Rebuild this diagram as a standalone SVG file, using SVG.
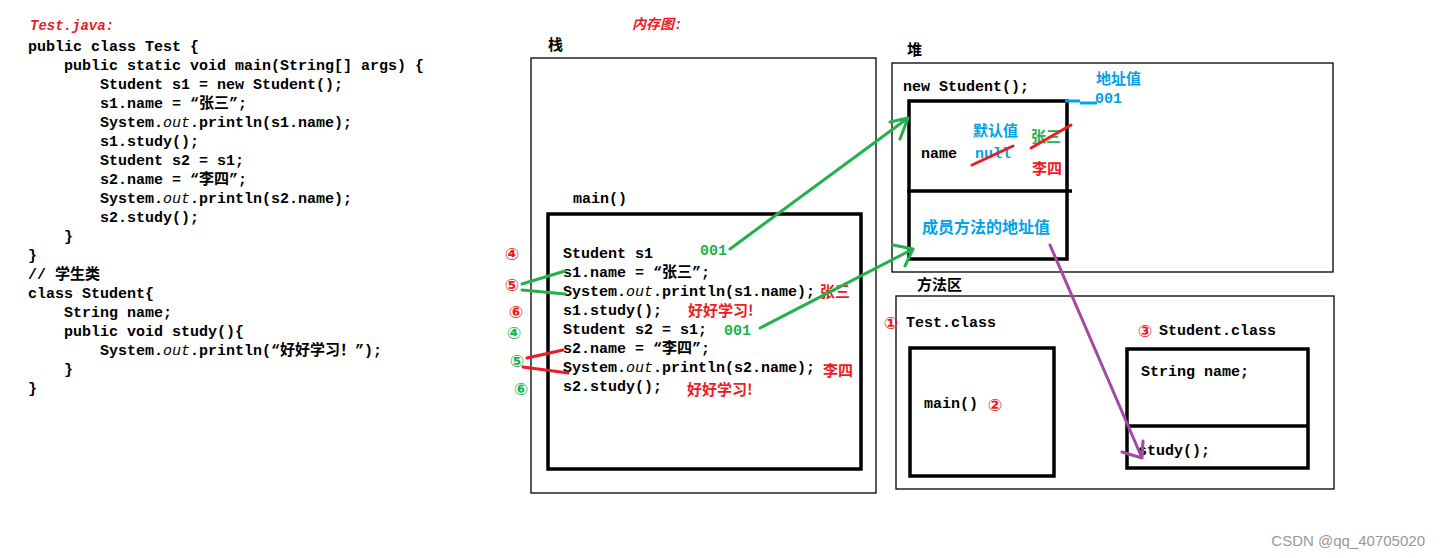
<svg xmlns="http://www.w3.org/2000/svg" width="1440" height="558" viewBox="0 0 1440 558">
<style>
.code{font-family:"Liberation Mono","Noto Sans CJK SC",monospace;font-size:15px;font-weight:bold;fill:#000}
.it{font-style:italic;font-weight:normal}
.cjk{font-family:"Noto Sans CJK SC",sans-serif;font-weight:bold}
.lbl{font-family:"Noto Sans CJK SC",sans-serif;font-size:15px;font-weight:bold;fill:#000}
.red{fill:#ED1C24}
.grn{fill:#22B14C}
.blu{fill:#00A2E8}
.circ{font-family:"DejaVu Sans",sans-serif;font-size:17px;font-weight:bold;text-anchor:middle}
.thin{fill:none;stroke:#000;stroke-width:1.3}
.thick{fill:none;stroke:#000;stroke-width:3.5}
.gl{stroke:#22B14C;stroke-width:3;fill:none;stroke-linecap:round}
.rl{stroke:#ED1C24;stroke-width:3;fill:none;stroke-linecap:round}
.pl{stroke:#A349A4;stroke-width:3;fill:none;stroke-linecap:round}
.bl{stroke:#00A2E8;stroke-width:3;fill:none}
.title{font-family:"Liberation Mono","Noto Sans CJK SC",monospace;font-size:14px;font-weight:bold;font-style:italic;fill:#ED1C24}
</style>
<rect width="1440" height="558" fill="#fff"/>

<g id="source-code">
<text class="title" x="30" y="30">Test.java:</text>
<text class="code" x="28" y="51">public class Test {</text>
<text class="code" x="64" y="70">public static void main(String[] args) {</text>
<text class="code" x="100" y="89">Student s1 = new Student();</text>
<text class="code" x="100" y="108">s1.name = “<tspan class="cjk">张三</tspan>”;</text>
<text class="code" x="100" y="127">System.<tspan class="it">out</tspan>.println(s1.name);</text>
<text class="code" x="100" y="146">s1.study();</text>
<text class="code" x="100" y="165">Student s2 = s1;</text>
<text class="code" x="100" y="184">s2.name = “<tspan class="cjk">李四</tspan>”;</text>
<text class="code" x="100" y="203">System.<tspan class="it">out</tspan>.println(s2.name);</text>
<text class="code" x="100" y="222">s2.study();</text>
<text class="code" x="64" y="241">}</text>
<text class="code" x="28" y="260">}</text>
<text class="code" x="28" y="279">// <tspan class="cjk">学生类</tspan></text>
<text class="code" x="28" y="298">class Student{</text>
<text class="code" x="64" y="317">String name;</text>
<text class="code" x="64" y="336">public void study(){</text>
<text class="code" x="100" y="355">System.<tspan class="it">out</tspan>.println(“<tspan class="cjk">好好学习！</tspan>”);</text>
<text class="code" x="64" y="374">}</text>
<text class="code" x="28" y="393">}</text>
</g>

<text class="title" x="632" y="29">内存图:</text>

<g id="stack">
<text class="lbl" x="548" y="50">栈</text>
<rect class="thin" x="531" y="58" width="345" height="435"/>
<text class="code" x="573" y="203">main()</text>
<rect class="thick" x="548" y="214" width="313" height="255"/>
<text class="code" x="563" y="258">Student s1</text>
<text class="code" x="563" y="277">s1.name = “<tspan class="cjk">张三</tspan>”;</text>
<text class="code" x="563" y="296">System.<tspan class="it">out</tspan>.println(s1.name);</text>
<text class="code" x="563" y="315">s1.study();</text>
<text class="code" x="563" y="334">Student s2 = s1;</text>
<text class="code" x="563" y="353">s2.name = “<tspan class="cjk">李四</tspan>”;</text>
<text class="code" x="563" y="372">System.<tspan class="it">out</tspan>.println(s2.name);</text>
<text class="code" x="563" y="391">s2.study();</text>
<text class="code grn" x="700" y="255">001</text>
<text class="code grn" x="724" y="335">001</text>
<text class="lbl red" x="820" y="297">张三</text>
<text class="lbl red" x="688" y="316">好好学习!</text>
<text class="lbl red" x="823" y="376">李四</text>
<text class="lbl red" x="687" y="395">好好学习!</text>
<text class="circ red" x="512" y="260">④</text>
<text class="circ red" x="512" y="291">⑤</text>
<text class="circ red" x="516" y="318">⑥</text>
<text class="circ grn" x="514" y="339">④</text>
<text class="circ grn" x="517" y="367">⑤</text>
<text class="circ grn" x="521" y="395">⑥</text>
</g>

<g id="heap">
<text class="lbl" x="907" y="55">堆</text>
<rect class="thin" x="892" y="63" width="441" height="209"/>
<text class="code" x="903" y="91">new Student();</text>
<rect class="thick" x="909" y="101" width="158" height="158"/>
<line x1="907" y1="191" x2="1072" y2="191" stroke="#000" stroke-width="3.5"/>
<path class="bl" d="M1065,101 H1080 M1080,103 H1097"/>
<text class="lbl blu" x="1096" y="84">地址值</text>
<text class="code blu" x="1095" y="103">001</text>
<text class="lbl blu" x="973" y="136">默认值</text>
<text class="code" x="921" y="158">name</text>
<text class="code blu" x="975" y="158">null</text>
<line class="rl" x1="972" y1="165" x2="1013" y2="146"/>
<text class="lbl grn" x="1031" y="142">张三</text>
<line class="rl" x1="1031" y1="148" x2="1071" y2="125"/>
<text class="lbl red" x="1032" y="174">李四</text>
<text class="lbl blu" x="922" y="233" style="font-size:16px">成员方法的地址值</text>
</g>

<g id="method-area">
<text class="lbl" x="917" y="290">方法区</text>
<rect class="thin" x="896" y="296" width="438" height="193"/>
<text class="circ red" x="891" y="329">①</text>
<text class="code" x="906" y="327">Test.class</text>
<rect class="thick" x="910" y="348" width="144" height="128"/>
<text class="code" x="924" y="408">main()</text>
<text class="circ red" x="995" y="411">②</text>
<text class="circ red" x="1145" y="337">③</text>
<text class="code" x="1159" y="335">Student.class</text>
<rect class="thick" x="1127" y="349" width="181" height="119"/>
<line x1="1127" y1="426" x2="1308" y2="426" stroke="#000" stroke-width="3.5"/>
<text class="code" x="1141" y="376">String name;</text>
<text class="code" x="1138" y="455">study();</text>
</g>

<g id="connectors">
<path class="gl" d="M730,249 L908,118 M908,118 L890,122 M908,118 L900,139"/>
<path class="gl" d="M760,328 L913,249 M913,249 L893,245 M913,249 L905,266"/>
<path class="gl" d="M522,284 L565,271 M522,290 L565,294"/>
<path class="rl" d="M527,358 L563,350 M523,367 L568,373"/>
<path class="pl" d="M1050,245 L1142,458 M1142,458 L1122,452 M1142,458 L1143,441"/>
</g>

<text x="1425" y="546" text-anchor="end" font-family="Liberation Sans, sans-serif" font-size="15" fill="#999">CSDN @qq_40705020</text>
</svg>
